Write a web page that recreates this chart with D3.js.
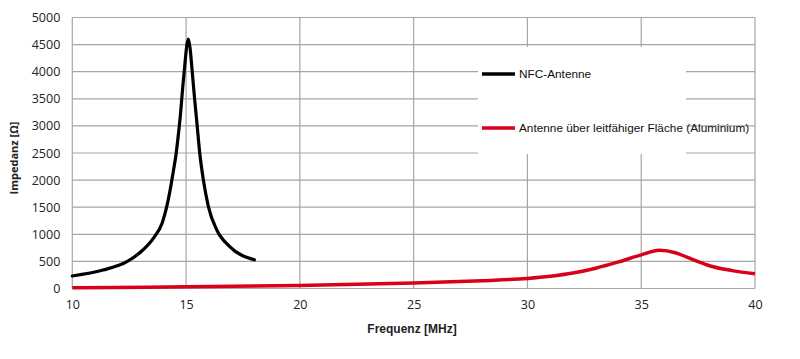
<!DOCTYPE html>
<html><head><meta charset="utf-8">
<script src="https://cdn.jsdelivr.net/npm/d3@7"></script>
<style>body{margin:0;background:#fff}</style>
</head><body>
<svg id="c" width="800" height="359"></svg>
<script>
const xTicks = [10, 15, 20, 25, 30, 35, 40];
const yTicks = [0, 500, 1000, 1500, 2000, 2500, 3000, 3500, 4000, 4500, 5000];
const nfcFreq = [10, 11.35, 12.4, 13.1, 13.6, 13.95, 14.15, 14.3, 14.45, 14.55, 14.65, 14.75, 14.85, 14.95, 15.03, 15.1, 15.17, 15.27, 15.37, 15.47, 15.6, 15.76, 15.98, 16.35, 16.93, 18];
const nfcImp  = [231, 340, 495, 710, 950, 1210, 1510, 1820, 2190, 2450, 2800, 3200, 3700, 4150, 4480, 4600, 4450, 4000, 3520, 3080, 2500, 2000, 1510, 1080, 770, 530];
const aluFreq = [10, 15, 20, 25, 28, 30, 31, 32, 33, 34, 35, 35.8, 36.5, 37, 37.5, 38, 39, 40];
const aluImp  = [15, 30, 55, 100, 145, 185, 225, 285, 375, 490, 620, 705, 660, 580, 495, 420, 330, 270];
const seriesNames = ["NFC-Antenne", "Antenne über leitfähiger Fläche (Aluminium)"];
const seriesColors = ["#000000", "#d9001b"];

const svg = d3.select("#c");
const x = d3.scaleLinear().domain([10, 40]).range([72.3, 755]);
const y = d3.scaleLinear().domain([0, 5000]).range([288.5, 17.5]);
const grid = "#a6a6a6";

svg.append("g").selectAll("line").data(yTicks).join("line")
  .attr("x1", x(10)).attr("x2", x(40)).attr("y1", d => y(d)).attr("y2", d => y(d))
  .attr("stroke", grid).attr("stroke-width", 1.2);
svg.append("g").selectAll("line").data(xTicks).join("line")
  .attr("x1", d => x(d)).attr("x2", d => x(d)).attr("y1", y(0)).attr("y2", y(5000))
  .attr("stroke", grid).attr("stroke-width", 1.2);

const xa = svg.append("g").attr("transform", `translate(0,${y(0)})`)
  .call(d3.axisBottom(x).tickValues(xTicks).tickFormat(d3.format("d")).tickSize(0).tickPadding(12));
const ya = svg.append("g").attr("transform", `translate(${x(10)},0)`)
  .call(d3.axisLeft(y).tickValues(yTicks).tickFormat(d3.format("d")).tickSize(0).tickPadding(12));
[xa, ya].forEach(a => {
  a.select(".domain").remove();
  a.selectAll("text").attr("font-family", "Open Sans, sans-serif").attr("font-size", 12.5).attr("fill", "#222");
});

svg.append("text").attr("x", 412).attr("y", 333).attr("text-anchor", "middle")
  .attr("font-family", "Liberation Sans, Arial, sans-serif").attr("font-weight", "bold").attr("font-size", 12)
  .attr("fill", "#222").text("Frequenz [MHz]");
svg.append("text").attr("transform", "translate(18,158) rotate(-90)").attr("text-anchor", "middle")
  .attr("font-family", "Open Sans, sans-serif").attr("font-weight", "bold").attr("font-size", 11)
  .attr("fill", "#222").text("Impedanz [Ω]");

const line = d3.line().x(d => x(d[0])).y(d => y(d[1])).curve(d3.curveMonotoneX);
const nfc = nfcFreq.map((f, i) => [f, nfcImp[i]]);
const alu = aluFreq.map((f, i) => [f, aluImp[i]]);
svg.append("path").attr("d", line(alu)).attr("fill", "none").attr("stroke", seriesColors[1]).attr("stroke-width", 3.5);
svg.append("path").attr("d", line(nfc)).attr("fill", "none").attr("stroke", seriesColors[0]).attr("stroke-width", 3.2)
  .attr("stroke-linecap", "round").attr("stroke-linejoin", "round");

svg.append("rect").attr("x", 478).attr("y", 47).attr("width", 208).attr("height", 107).attr("fill", "#fff");
const lg = svg.append("g").selectAll("g").data(seriesNames).join("g")
  .attr("transform", (d, i) => `translate(482,${74 + i * 54})`);
lg.append("line").attr("x1", 0).attr("x2", 33).attr("stroke", (d, i) => seriesColors[i]).attr("stroke-width", 3.5);
lg.append("text").attr("x", 37).attr("y", 4).attr("font-family", "Liberation Sans, Arial, sans-serif")
  .attr("font-size", 11.8).attr("fill", "#111").text(d => d);
</script>
</body></html>
